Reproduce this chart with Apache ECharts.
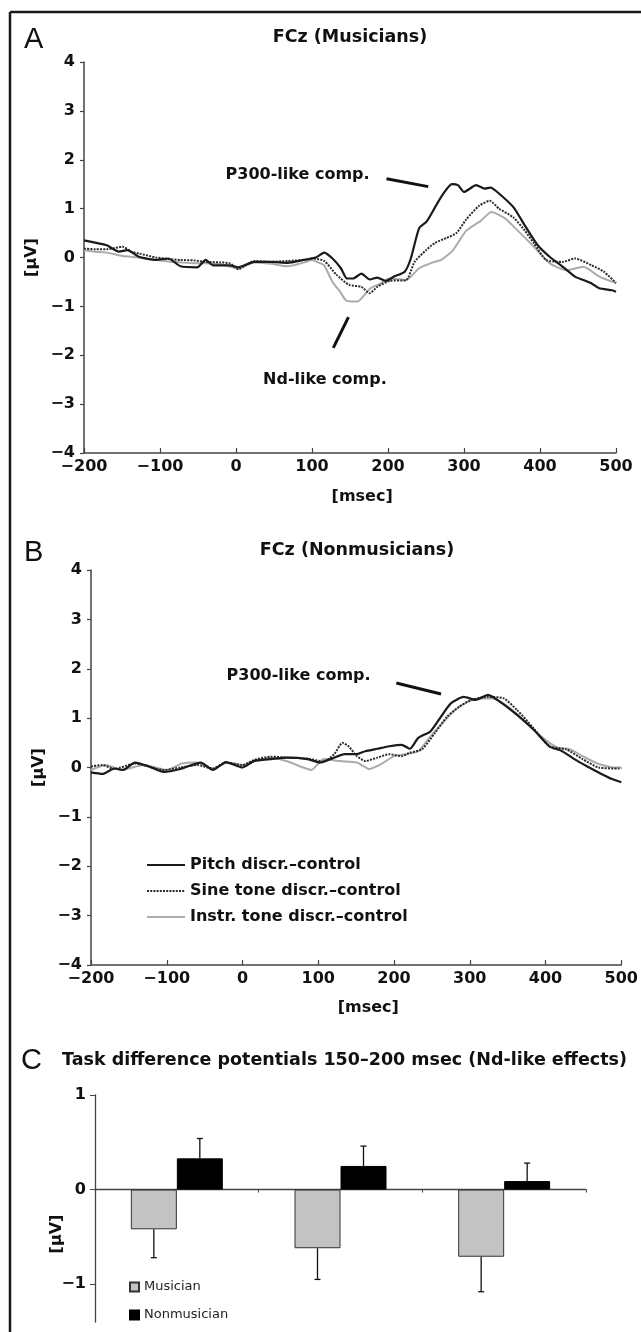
<!DOCTYPE html>
<html><head><meta charset="utf-8">
<script src="https://cdn.jsdelivr.net/npm/echarts@6/dist/echarts.min.js"></script>
<style>html,body{margin:0;padding:0;background:#fff}#c{width:641px;height:1332px}</style>
</head><body><div id="c"></div>
<script>
// ---------- DATA ----------
const seriesNames = ['Pitch discr.\u2013control', 'Sine tone discr.\u2013control', 'Instr. tone discr.\u2013control'];
const timeTicks = [-200, -100, 0, 100, 200, 300, 400, 500];
const voltTicks = [-4, -3, -2, -1, 0, 1, 2, 3, 4];

// Panel A (Musicians), [msec, µV]
const pitchA = [[-200,0.35],[-181,0.29],[-170,0.25],[-154,0.12],[-143,0.15],[-127,0.01],[-105,-0.05],[-89,-0.02],[-73,-0.18],[-51,-0.2],[-40,-0.05],[-30,-0.16],[-8,-0.16],[3,-0.2],[24,-0.09],[46,-0.09],[68,-0.11],[89,-0.05],[105,0],[116,0.1],[127,-0.02],[138,-0.22],[146,-0.43],[154,-0.43],[165,-0.33],[176,-0.45],[186,-0.41],[197,-0.48],[208,-0.39],[222,-0.29],[230,-0.02],[241,0.6],[251,0.74],[262,1.03],[273,1.31],[284,1.5],[292,1.48],[300,1.34],[316,1.48],[327,1.41],[335,1.43],[346,1.31],[365,1.03],[381,0.63],[397,0.25],[413,0.01],[430,-0.19],[446,-0.39],[457,-0.46],[468,-0.53],[478,-0.63],[495,-0.67],[500,-0.7]];
const sineA = [[-200,0.18],[-185,0.17],[-170,0.17],[-149,0.22],[-138,0.12],[-127,0.08],[-105,0],[-89,-0.03],[-73,-0.05],[-55,-0.06],[-40,-0.09],[-20,-0.1],[-8,-0.12],[3,-0.24],[14,-0.15],[24,-0.07],[46,-0.09],[68,-0.07],[90,-0.05],[100,-0.02],[116,-0.07],[132,-0.35],[149,-0.56],[165,-0.6],[176,-0.73],[186,-0.6],[202,-0.48],[224,-0.46],[235,-0.09],[250,0.15],[262,0.3],[277,0.4],[290,0.5],[303,0.78],[320,1.06],[334,1.16],[346,1.0],[365,0.82],[380,0.55],[392,0.29],[408,-0.05],[430,-0.09],[446,-0.02],[468,-0.16],[484,-0.29],[500,-0.52]];
const instrA = [[-200,0.15],[-185,0.12],[-170,0.1],[-149,0.03],[-127,0],[-105,-0.05],[-89,-0.08],[-73,-0.1],[-55,-0.12],[-40,-0.12],[-20,-0.14],[3,-0.22],[24,-0.1],[46,-0.13],[68,-0.18],[90,-0.1],[100,-0.05],[108,-0.1],[116,-0.16],[127,-0.5],[137,-0.7],[145,-0.88],[160,-0.9],[176,-0.64],[188,-0.55],[202,-0.43],[224,-0.46],[241,-0.22],[259,-0.1],[270,-0.05],[285,0.14],[303,0.55],[322,0.75],[336,0.93],[354,0.8],[370,0.56],[392,0.22],[413,-0.12],[435,-0.26],[457,-0.19],[478,-0.39],[500,-0.52]];

// Panel B (Nonmusicians)
const pitchB = [[-200,-0.1],[-185,-0.13],[-169,-0.02],[-158,-0.05],[-142,0.1],[-125,0.03],[-104,-0.09],[-82,-0.03],[-55,0.1],[-39,-0.05],[-22,0.11],[0,0],[15,0.13],[37,0.17],[59,0.2],[86,0.17],[102,0.1],[118,0.18],[135,0.27],[151,0.27],[162,0.33],[178,0.38],[194,0.43],[210,0.46],[221,0.38],[232,0.6],[248,0.73],[262,1.03],[275,1.3],[292,1.43],[308,1.37],[324,1.47],[340,1.33],[362,1.07],[384,0.77],[405,0.43],[422,0.33],[438,0.17],[454,0.03],[470,-0.1],[487,-0.23],[500,-0.3]];
const sineB = [[-200,0.02],[-185,0.05],[-169,-0.03],[-142,0.08],[-104,-0.05],[-82,0],[-60,0.05],[-39,-0.02],[-22,0.1],[0,0.05],[15,0.15],[37,0.22],[59,0.2],[86,0.18],[107,0.12],[121,0.27],[132,0.5],[140,0.43],[151,0.23],[162,0.13],[178,0.2],[194,0.27],[210,0.23],[221,0.3],[237,0.37],[254,0.7],[270,1.03],[286,1.23],[302,1.37],[324,1.43],[345,1.4],[362,1.17],[384,0.8],[405,0.43],[427,0.37],[449,0.17],[470,0],[497,-0.02],[500,-0.02]];
const instrB = [[-200,-0.05],[-180,0.05],[-160,-0.05],[-130,0.05],[-100,-0.05],[-80,0.08],[-60,0.1],[-40,-0.02],[-20,0.1],[0,0.05],[20,0.15],[40,0.2],[60,0.12],[80,0],[91,-0.05],[107,0.17],[129,0.13],[151,0.1],[167,-0.03],[183,0.07],[200,0.23],[216,0.27],[232,0.33],[248,0.63],[264,0.9],[281,1.17],[297,1.33],[313,1.4],[330,1.4],[351,1.23],[373,0.93],[394,0.63],[416,0.4],[432,0.37],[449,0.23],[470,0.07],[492,0],[500,0]];

// Panel C (bars)
const categories = ['1', '2', '3'];
const barNames = ['Musician', 'Nonmusician'];
const musician = [-0.42, -0.62, -0.71];
const musicianErr = [0.30, 0.33, 0.37];
const nonmusician = [0.33, 0.25, 0.09];
const nonmusicianErr = [0.21, 0.21, 0.19];
const barTicks = [-1, 0, 1];

// Annotations (data coordinates)
const annotations = [
  {grid: 0, text: 'P300-like comp.', at: [81, 1.70], line: [[198, 1.61], [253, 1.45]]},
  {grid: 0, text: 'Nd-like comp.', at: [117, -2.5], line: [[148, -1.22], [128, -1.85]]},
  {grid: 1, text: 'P300-like comp.', at: [74, 1.85], line: [[203, 1.71], [262, 1.49]]}
];

// ---------- STYLE ----------
const FONT = '"DejaVu Sans", "Liberation Sans", sans-serif';
const AX = '#444';
const BAR_W = 46;
const fmt = v => (v < 0 ? '\u2212' + Math.abs(v) : String(v));

function timeAxis(gi) {
  return {
    type: 'value', gridIndex: gi, min: -200, max: 500, interval: 100,
    axisLine: {show: true, onZero: false, lineStyle: {color: AX, width: 1.5}},
    axisTick: {show: true, inside: true, length: 5, lineStyle: {color: AX, width: 1.2}},
    axisLabel: {color: '#111', fontWeight: 'bold', fontSize: 16, fontFamily: FONT, margin: 6, formatter: fmt},
    splitLine: {show: false}
  };
}
function voltAxis(gi, gap) {
  return {
    type: 'value', gridIndex: gi, min: -4, max: 4, interval: 1,
    name: '[\u03bcV]', nameLocation: 'middle', nameRotate: 90, nameGap: gap,
    nameTextStyle: {color: '#111', fontWeight: 'bold', fontSize: 16, fontFamily: FONT},
    axisLine: {show: true, onZero: false, lineStyle: {color: AX, width: 1.5}},
    axisTick: {show: true, inside: false, length: 4, lineStyle: {color: AX, width: 1.2}},
    axisLabel: {color: '#111', fontWeight: 'bold', fontSize: 16, fontFamily: FONT, margin: 9, formatter: fmt},
    splitLine: {show: false}
  };
}
const lineStyles = [
  {color: '#1a1a1a', width: 2.2, type: 'solid'},
  {color: '#2b2b2b', width: 2, type: [2, 1.2]},
  {color: '#ababab', width: 2, type: 'solid'}
];
function lineSeries(name, data, gi, k) {
  return {
    name, type: 'line', xAxisIndex: gi, yAxisIndex: gi, data,
    symbol: 'none', smooth: 0.2, lineStyle: lineStyles[k], itemStyle: {color: lineStyles[k].color},
    z: 10 - k, animation: false
  };
}
function errSeries(vals, errs, dir, off) {
  return {
    type: 'custom', xAxisIndex: 2, yAxisIndex: 2, z: 5, animation: false,
    data: categories.map((c, i) => [i, vals[i], vals[i] + dir * errs[i]]),
    renderItem: (params, api) => {
      const a = api.coord([api.value(0), api.value(1)]);
      const b = api.coord([api.value(0), api.value(2)]);
      const x = a[0] + off;
      return {type: 'group', children: [
        {type: 'line', shape: {x1: x, y1: a[1], x2: x, y2: b[1]}, style: {stroke: '#111', lineWidth: 1.3}},
        {type: 'line', shape: {x1: x - 3, y1: b[1], x2: x + 3, y2: b[1]}, style: {stroke: '#111', lineWidth: 1.3}}
      ]};
    }
  };
}

const option = {
  backgroundColor: '#fff',
  animation: false,
  grid: [
    {left: 84, top: 62, width: 532, height: 391},
    {left: 91, top: 570, width: 532, height: 395},
    {left: 95, top: 1095, width: 491, height: 227}
  ],
  xAxis: [
    timeAxis(0), timeAxis(1),
    {type: 'category', gridIndex: 2, data: categories,
     axisLine: {show: true, onZero: true, lineStyle: {color: AX, width: 1.3}},
     axisTick: {show: true, length: 3, lineStyle: {color: AX}},
     axisLabel: {show: false}, splitLine: {show: false}}
  ],
  yAxis: [
    voltAxis(0, 33), voltAxis(1, 36),
    {type: 'value', gridIndex: 2, min: -1.4, max: 1,
     axisLine: {show: true, onZero: false, lineStyle: {color: AX, width: 1.3}},
     axisTick: {show: true, length: 5, customValues: barTicks, lineStyle: {color: AX}},
     axisLabel: {color: '#111', fontWeight: 'bold', fontSize: 16, fontFamily: FONT, margin: 9, customValues: barTicks, formatter: fmt},
     splitLine: {show: false}}
  ],
  legend: [
    {data: seriesNames, orient: 'vertical', left: 146, top: 856, itemWidth: 38, itemHeight: 12, itemGap: 8,
     selectedMode: false, padding: 0, itemStyle: {opacity: 0},
     textStyle: {color: '#111', fontWeight: 'bold', fontSize: 16, fontFamily: FONT, lineHeight: 18}},
    {data: barNames, orient: 'vertical', left: 129, top: 1279, itemWidth: 9, itemHeight: 9, itemGap: 12,
     selectedMode: false, padding: 0, icon: 'rect',
     textStyle: {color: '#222', fontSize: 13, fontFamily: FONT, lineHeight: 16}}
  ],
  series: [
    lineSeries(seriesNames[2], instrA, 0, 2),
    lineSeries(seriesNames[1], sineA, 0, 1),
    lineSeries(seriesNames[0], pitchA, 0, 0),
    lineSeries(seriesNames[2], instrB, 1, 2),
    lineSeries(seriesNames[1], sineB, 1, 1),
    lineSeries(seriesNames[0], pitchB, 1, 0),
    {name: barNames[0], type: 'bar', xAxisIndex: 2, yAxisIndex: 2, data: musician, barWidth: BAR_W, barGap: '0%',
     itemStyle: {color: '#c3c3c3', borderColor: '#333', borderWidth: 1}},
    {name: barNames[1], type: 'bar', xAxisIndex: 2, yAxisIndex: 2, data: nonmusician, barWidth: BAR_W, barGap: '0%',
     itemStyle: {color: '#000', borderColor: '#000', borderWidth: 1}},
    errSeries(musician, musicianErr, -1, -BAR_W / 2),
    errSeries(nonmusician, nonmusicianErr, 1, BAR_W / 2)
  ]
};

const chart = echarts.init(document.getElementById('c'), null, {renderer: 'canvas'});
chart.setOption(option);

function txt(x, y, text, font, align) {
  return {type: 'text', x, y, z: 100,
    style: {text, font, fill: '#111', align: align || 'center', verticalAlign: 'middle'}};
}
const BOLD = 'bold 16px ' + FONT;
const TITLE = 'bold 17.5px ' + FONT;
const LETTER = 'normal 29px "Liberation Sans", sans-serif';
const g = [
  {type: 'line', shape: {x1: 10, y1: 12, x2: 641, y2: 12}, style: {stroke: '#1a1a1a', lineWidth: 2.5}},
  {type: 'line', shape: {x1: 10, y1: 12, x2: 10, y2: 1332}, style: {stroke: '#1a1a1a', lineWidth: 2.5}},
  txt(24, 40, 'A', LETTER, 'left'),
  txt(24, 553, 'B', LETTER, 'left'),
  txt(21, 1061, 'C', LETTER, 'left'),
  txt(350, 37, 'FCz (Musicians)', TITLE),
  txt(357, 550, 'FCz (Nonmusicians)', TITLE),
  txt(62, 1060, 'Task difference potentials 150\u2013200 msec (Nd-like effects)', TITLE, 'left')
];
const ms0 = chart.convertToPixel({gridIndex: 0}, [166, -4]);
const ms1 = chart.convertToPixel({gridIndex: 1}, [166, -4]);
g.push(txt(ms0[0], ms0[1] + 44, '[msec]', BOLD));
g.push(txt(ms1[0], ms1[1] + 43, '[msec]', BOLD));
const uv = chart.convertToPixel({gridIndex: 2}, [0, -0.47]);
g.push({type: 'text', x: 57, y: uv[1], rotation: Math.PI / 2, z: 100,
  style: {text: '[\u03bcV]', font: BOLD, fill: '#111', align: 'center', verticalAlign: 'middle'}});
annotations.forEach(a => {
  const p = chart.convertToPixel({gridIndex: a.grid}, a.at);
  const l0 = chart.convertToPixel({gridIndex: a.grid}, a.line[0]);
  const l1 = chart.convertToPixel({gridIndex: a.grid}, a.line[1]);
  g.push(txt(p[0], p[1], a.text, BOLD));
  g.push({type: 'line', z: 100, shape: {x1: l0[0], y1: l0[1], x2: l1[0], y2: l1[1]}, style: {stroke: '#111', lineWidth: 3}});
});
chart.setOption({graphic: g});
</script>
</body></html>
